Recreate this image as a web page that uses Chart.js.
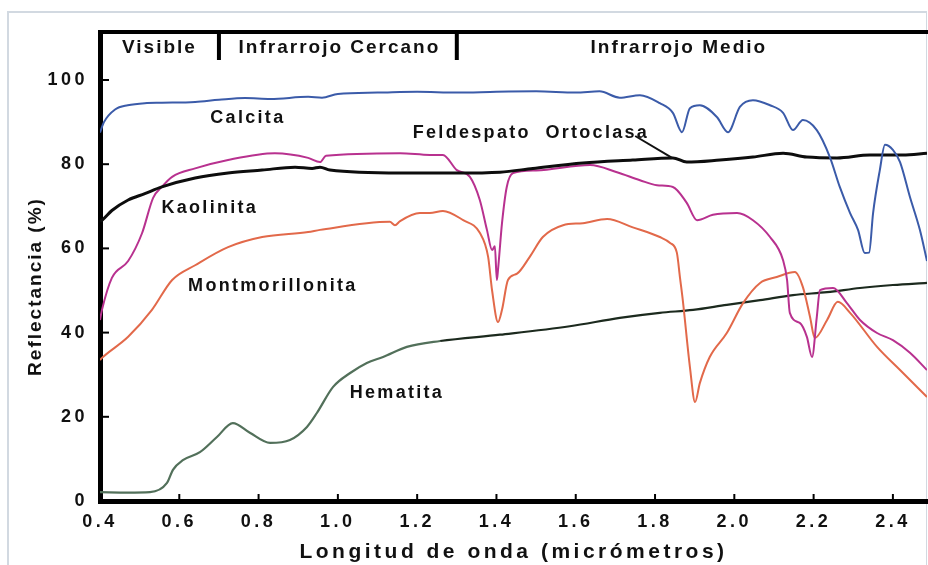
<!DOCTYPE html>
<html>
<head>
<meta charset="utf-8">
<title>Reflectancia espectral de minerales</title>
<script src="https://cdn.jsdelivr.net/npm/chart.js@4.4.1/dist/chart.umd.min.js"></script>
<style>
  html, body { margin: 0; padding: 0; background: #fff; }
  #wrap { position: relative; width: 928px; height: 565px; overflow: hidden; }
  #frame { position: absolute; left: 7px; top: 11px; width: 917px; height: 600px;
           border: 2px solid #d2d9e1; border-right-width: 1px; border-bottom: none; }
  #chart { position: absolute; left: 0; top: 0; }
</style>
</head>
<body>
<div id="wrap">
  <div id="frame"></div>
  <canvas id="chart" width="928" height="565"></canvas>
</div>
<script>
// ---- DATA ----
const xTicks = [0.4, 0.6, 0.8, 1.0, 1.2, 1.4, 1.6, 1.8, 2.0, 2.2, 2.4];
const yTicks = [0, 20, 40, 60, 80, 100];

const bandNames = ['Visible', 'Infrarrojo Cercano', 'Infrarrojo Medio'];
const bandLabelX = [0.55, 1.004, 1.86];
const bandEdges = [0.7, 1.3];

const calcitaX = [0.400, 0.410, 0.438, 0.470, 0.513, 0.556, 0.640, 0.700, 0.766, 0.830, 0.925, 0.960, 1.000, 1.100, 1.200, 1.300, 1.400, 1.500, 1.600, 1.660, 1.711, 1.762, 1.812, 1.845, 1.868, 1.888, 1.913, 1.956, 1.984, 2.014, 2.047, 2.090, 2.123, 2.148, 2.173, 2.208, 2.241, 2.266, 2.292, 2.312, 2.329, 2.340, 2.350, 2.367, 2.380, 2.400, 2.418, 2.443, 2.468, 2.486];
const calcitaY = [87.5, 90.0, 93.0, 94.0, 94.5, 94.6, 94.8, 95.3, 95.7, 95.5, 96.0, 95.8, 96.7, 97.0, 97.2, 97.0, 97.2, 97.3, 97.0, 97.3, 95.8, 96.4, 94.5, 92.2, 87.6, 93.3, 94.0, 91.2, 87.6, 93.6, 95.2, 94.0, 92.2, 88.1, 90.5, 88.1, 81.7, 74.6, 68.4, 64.4, 58.9, 59.0, 68.4, 78.6, 84.6, 83.4, 80.5, 72.2, 64.4, 57.0];

const feldespatoX = [0.400, 0.405, 0.430, 0.471, 0.513, 0.556, 0.640, 0.723, 0.809, 0.892, 0.935, 0.955, 0.980, 1.157, 1.300, 1.409, 1.492, 1.618, 1.744, 1.845, 1.880, 1.964, 2.047, 2.123, 2.183, 2.259, 2.342, 2.425, 2.486];
const feldespatoY = [66.5, 66.7, 69.0, 71.5, 73.0, 74.6, 76.7, 77.9, 78.6, 79.3, 79.0, 79.3, 78.6, 77.9, 77.9, 78.1, 79.0, 80.3, 81.0, 81.5, 80.5, 81.0, 81.7, 82.6, 81.7, 81.5, 82.2, 82.2, 82.6];

const kaolinitaX = [0.400, 0.405, 0.430, 0.471, 0.506, 0.534, 0.556, 0.582, 0.640, 0.723, 0.841, 0.925, 0.955, 0.970, 1.157, 1.232, 1.265, 1.300, 1.333, 1.358, 1.376, 1.389, 1.396, 1.401, 1.404, 1.414, 1.426, 1.442, 1.500, 1.636, 1.704, 1.762, 1.805, 1.845, 1.880, 1.906, 1.946, 2.007, 2.047, 2.090, 2.123, 2.133, 2.140, 2.165, 2.183, 2.196, 2.208, 2.216, 2.249, 2.284, 2.317, 2.360, 2.400, 2.443, 2.486];
const kaolinitaY = [43.0, 45.4, 53.0, 57.0, 63.6, 72.0, 74.6, 77.0, 79.0, 81.0, 82.6, 81.5, 80.5, 82.0, 82.6, 82.2, 82.2, 78.6, 77.0, 71.5, 64.4, 59.6, 60.5, 52.5, 55.0, 66.0, 74.6, 77.9, 78.5, 79.8, 78.1, 76.2, 75.0, 74.6, 70.8, 66.7, 68.0, 68.4, 66.7, 62.7, 57.2, 52.5, 44.7, 42.3, 39.0, 34.2, 43.7, 50.1, 50.6, 47.0, 43.0, 39.9, 38.2, 35.2, 31.1];

const montmorillonitaX = [0.400, 0.405, 0.471, 0.531, 0.582, 0.640, 0.723, 0.809, 0.925, 0.955, 1.131, 1.144, 1.157, 1.207, 1.232, 1.265, 1.316, 1.358, 1.379, 1.389, 1.404, 1.414, 1.429, 1.452, 1.484, 1.517, 1.568, 1.618, 1.679, 1.744, 1.812, 1.838, 1.855, 1.863, 1.870, 1.888, 1.901, 1.913, 1.938, 1.981, 2.022, 2.065, 2.107, 2.153, 2.173, 2.191, 2.203, 2.234, 2.261, 2.292, 2.360, 2.418, 2.486];
const montmorillonitaY = [33.5, 34.0, 39.0, 45.4, 52.5, 56.0, 60.3, 62.7, 63.9, 64.4, 66.3, 65.5, 66.5, 68.4, 68.4, 68.9, 66.7, 63.7, 58.0, 50.0, 42.5, 45.4, 52.5, 54.0, 58.0, 62.7, 65.5, 66.0, 67.0, 65.0, 62.7, 61.3, 59.0, 53.0, 47.7, 31.8, 23.5, 28.0, 34.2, 39.9, 47.0, 51.8, 53.2, 54.4, 50.8, 43.7, 38.7, 43.0, 47.3, 44.7, 36.6, 31.1, 24.7];

const hematitaX = [0.400, 0.470, 0.526, 0.569, 0.584, 0.609, 0.652, 0.695, 0.735, 0.778, 0.829, 0.879, 0.922, 0.947, 0.988, 1.031, 1.073, 1.114, 1.174, 1.258, 1.409, 1.585, 1.711, 1.812, 1.896, 1.981, 2.065, 2.148, 2.234, 2.317, 2.400, 2.486];
const hematitaY = [2.1, 2.0, 2.1, 4.3, 7.4, 9.7, 11.6, 15.2, 18.5, 16.2, 13.8, 14.5, 17.6, 20.9, 27.1, 30.4, 32.8, 34.2, 36.6, 38.0, 39.5, 41.5, 43.5, 44.7, 45.4, 46.6, 47.7, 48.9, 49.6, 50.6, 51.3, 51.8];

// curve labels, in data units (wavelength, reflectance)
const curveLabels = [
  { text: 'Calcita', x: 0.773, y: 91.0 },
  { text: 'Feldespato  Ortoclasa', x: 1.487, y: 87.4 },
  { text: 'Kaolinita', x: 0.677, y: 69.6 },
  { text: 'Montmorillonita', x: 0.836, y: 51.1 },
  { text: 'Hematita', x: 1.149, y: 25.7 }
];
const leaderLine = [[1.750, 86.7], [1.843, 81.5]];

// ---- HELPERS ----
const FONT = "'Liberation Sans', Arial, sans-serif";
Chart.defaults.font.family = FONT;

function pts(xs, ys) {
  return xs.map((x, i) => ({ x: x, y: ys[i] }));
}

function line(label, xs, ys, color, width) {
  return {
    label: label,
    data: pts(xs, ys),
    borderColor: color,
    borderWidth: width,
    pointRadius: 0,
    cubicInterpolationMode: 'monotone',
    fill: false
  };
}

// ---- DECORATION PLUGIN ----
const decor = {
  id: 'decor',
  beforeDraw(chart) {
    chart.ctx.letterSpacing = '3.5px';
  },
  beforeDatasetsDraw(chart) {
    chart.ctx.letterSpacing = '0px';
  },
  afterDraw(chart) {
    const ctx = chart.ctx;
    const a = chart.chartArea;
    const x = chart.scales.x;
    const y = chart.scales.y;
    ctx.save();
    ctx.strokeStyle = '#000';
    ctx.lineCap = 'butt';

    // top bar and band dividers
    ctx.lineWidth = 4;
    ctx.beginPath();
    ctx.moveTo(a.left - 2, a.top);
    ctx.lineTo(a.right + 2, a.top);
    ctx.stroke();
    bandEdges.forEach(b => {
      const px = x.getPixelForValue(b);
      ctx.beginPath();
      ctx.moveTo(px, a.top);
      ctx.lineTo(px, a.top + 28);
      ctx.stroke();
    });

    // inward tick marks
    ctx.lineWidth = 2;
    yTicks.forEach(v => {
      const py = y.getPixelForValue(v);
      ctx.beginPath();
      ctx.moveTo(a.left, py);
      ctx.lineTo(a.left + 9, py);
      ctx.stroke();
    });
    xTicks.forEach(v => {
      const px = x.getPixelForValue(v);
      ctx.beginPath();
      ctx.moveTo(px, a.bottom);
      ctx.lineTo(px, a.bottom - 7);
      ctx.stroke();
    });

    // leader line for feldespato label
    ctx.lineWidth = 2;
    ctx.strokeStyle = '#111';
    ctx.beginPath();
    ctx.moveTo(x.getPixelForValue(leaderLine[0][0]), y.getPixelForValue(leaderLine[0][1]));
    ctx.lineTo(x.getPixelForValue(leaderLine[1][0]), y.getPixelForValue(leaderLine[1][1]));
    ctx.stroke();

    // texts
    ctx.fillStyle = '#111';
    ctx.textAlign = 'center';
    ctx.textBaseline = 'middle';
    ctx.font = 'bold 19px ' + FONT;
    ctx.letterSpacing = '2px';
    bandNames.forEach((t, i) => {
      ctx.fillText(t, x.getPixelForValue(bandLabelX[i]), a.top + 16);
    });

    ctx.font = 'bold 18px ' + FONT;
    ctx.letterSpacing = '2.3px';
    curveLabels.forEach(l => {
      ctx.fillText(l.text, x.getPixelForValue(l.x), y.getPixelForValue(l.y));
    });

    // y axis title
    ctx.font = 'bold 19px ' + FONT;
    ctx.letterSpacing = '2px';
    ctx.translate(36, (a.top + a.bottom) / 2 + 20);
    ctx.rotate(-Math.PI / 2);
    ctx.fillText('Reflectancia (%)', 0, 0);
    ctx.restore();
  }
};

// ---- CHART ----
new Chart(document.getElementById('chart'), {
  type: 'line',
  data: {
    datasets: [
      line('Calcita', calcitaX, calcitaY, '#3b5ba9', 2),
      line('Feldespato Ortoclasa', feldespatoX, feldespatoY, '#0d0d0d', 3),
      line('Kaolinita', kaolinitaX, kaolinitaY, '#b8318f', 2),
      line('Montmorillonita', montmorillonitaX, montmorillonitaY, '#e2694a', 2),
      Object.assign(line('Hematita', hematitaX, hematitaY, '#4d6b4d', 2.2), {
        segment: { borderColor: c => c.p0.parsed.x < 1.2 ? '#52705a' : '#1c2a1e' }
      })
    ]
  },
  options: {
    responsive: false,
    animation: false,
    layout: { padding: { top: 32, right: 1, left: 0, bottom: 0 } },
    plugins: {
      legend: { display: false },
      tooltip: { enabled: false }
    },
    scales: {
      x: {
        type: 'linear',
        min: 0.4,
        max: 2.486,
        grid: { display: false, drawTicks: false },
        border: { display: true, width: 5, color: '#000' },
        afterBuildTicks: s => { s.ticks = xTicks.map(v => ({ value: v })); },
        afterFit: s => { s.height = 64; },
        ticks: {
          color: '#111',
          font: { size: 18, weight: 'bold' },
          padding: 10,
          maxRotation: 0,
          autoSkip: false,
          callback: v => v.toFixed(1)
        },
        title: {
          display: true,
          text: 'Longitud de onda (micrómetros)',
          color: '#111',
          font: { size: 21, weight: 'bold' },
          padding: { top: 0, bottom: 0 }
        }
      },
      y: {
        min: 0,
        max: 111.4,
        grid: { display: false, drawTicks: false },
        border: { display: true, width: 5, color: '#000' },
        afterBuildTicks: s => { s.ticks = yTicks.map(v => ({ value: v })); },
        afterFit: s => { s.width = 100; },
        ticks: {
          color: '#111',
          font: { size: 18, weight: 'bold' },
          padding: 12
        }
      }
    }
  },
  plugins: [decor]
});
</script>
</body>
</html>
